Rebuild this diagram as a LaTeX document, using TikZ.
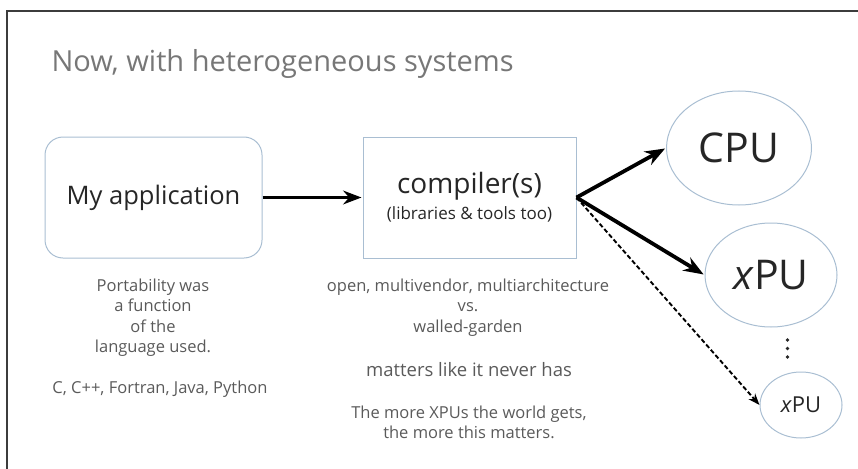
\documentclass[tikz,border=0pt]{standalone}
\usepackage{fontspec}
\setmainfont{Open Sans}
\usetikzlibrary{arrows.meta, shapes.geometric}
\definecolor{edgec}{HTML}{A9BED2}
\definecolor{titlec}{HTML}{777777}
\definecolor{notec}{HTML}{5A5A5A}
\definecolor{framec}{HTML}{3C3C3C}
\newcommand{\pu}[5]{%
  \node[pu, minimum width=#3, minimum height=#4] (#1) at #2 {#5};
}

\begin{document}
\begin{tikzpicture}[x=1pt, y=-1pt, >=Stealth,
    box/.style={draw=edgec, line width=1pt, minimum width=217pt,
      minimum height=121pt, inner sep=0pt, align=center, text=black!85},
    pu/.style={ellipse, draw=edgec, line width=1pt, inner sep=0pt,
      text=black!85},
    note/.style={text=notec, align=center, anchor=base,
      font=\fontsize{16.5}{20.5}\selectfont},
    flow/.style={->, line width=3.8pt, shorten >=1pt}]
  \useasboundingbox (0,0) rectangle (858,468);
  \draw[framec, line width=1.8pt] (7,480) -- (7,11) -- (870,11);
  \node[titlec, anchor=base west, font=\fontsize{29}{34}\selectfont]
    (title) at (48,72) {Now, with heterogeneous systems};

  % source and toolchain
  \node[box, rounded corners=18pt, font=\fontsize{25.5}{30}\selectfont]
    (app) at (153.5,197.5) {My application};
  \node[box, minimum width=213pt, font=\fontsize{17}{26}\selectfont]
    (comp) at (469.5,197.5)
    {{\fontsize{28}{26}\selectfont compiler(s)}\\(libraries \& tools too)};

  % targets
  \pu{cpu}{(739,148)}{145pt}{114pt}{\fontsize{41}{44}\selectfont CPU}
  \pu{xpu}{(771,275)}{132pt}{104pt}{\fontsize{41}{44}\selectfont\textit{x}PU}
  \pu{xpun}{(801,405)}{82pt}{66pt}{\fontsize{22}{24}\selectfont\textit{x}PU}
  \foreach \y in {340,348.5,357} \fill[black!85] (787.5,\y) circle (1.9pt);

  \draw[flow, line width=3.4pt] (app) -- (comp);
  \foreach \t in {cpu, xpu} \draw[flow] (comp.east) -- (\t.west);
  \draw[->, line width=1.9pt, dash pattern=on 4.5pt off 2.5pt]
    (comp.east) -- (xpun.west);

  % remarks under the boxes (base = last line)
  \node[note] (lang) at (153,352.5)
    {Portability was\\a function\\of the\\language used.};
  \node[note] (langs) at (160,393) {C, C++, Fortran, Java, Python};
  \node[note] (open) at (468,332)
    {open, multivendor, multiarchitecture\\vs.\\walled-garden};
  \node[note, font=\fontsize{18.5}{20.5}\selectfont] (never) at (469,376)
    {matters like it never has};
  \node[note] (gets) at (469,438.5)
    {The more XPUs the world gets,\\the more this matters.};
\end{tikzpicture}
\end{document}
